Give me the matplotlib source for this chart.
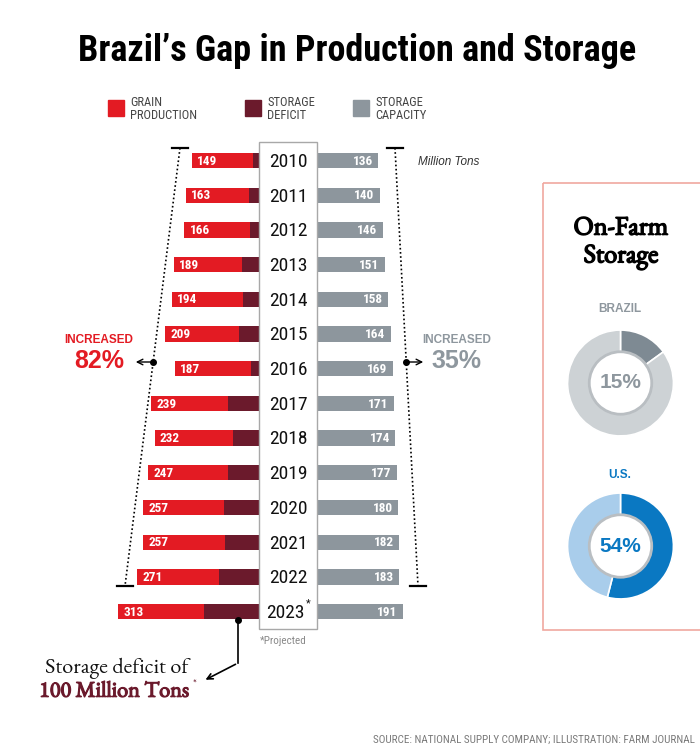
import matplotlib
matplotlib.use("Agg")
import matplotlib.pyplot as plt
import matplotlib.patheffects as pe
from matplotlib.patches import Rectangle, Circle

years = ["2010", "2011", "2012", "2013", "2014", "2015", "2016",
         "2017", "2018", "2019", "2020", "2021", "2022", "2023"]
production = [149, 163, 166, 189, 194, 209, 187, 239, 232, 247, 257, 257, 271, 313]
capacity = [136, 140, 146, 151, 158, 164, 169, 171, 174, 177, 180, 182, 183, 191]
deficit = [p - c for p, c in zip(production, capacity)]

brazil_share = [15, 85]
us_share = [54, 46]

RED = "#E31B23"
DARK = "#6B1A2C"
GRAY = "#8D969D"
GRAY_TXT = "#8E979E"
BLUE = "#0A78C2"
LIGHT_BLUE = "#A9CDEB"
NARROW = ["Roboto Condensed", "Liberation Sans", "DejaVu Sans"]
SANS = ["Liberation Sans", "DejaVu Sans"]
SERIF = ["EB Garamond", "Liberation Serif", "DejaVu Serif"]

PX = 0.45        # pixels per million tons
CX = 288         # centre of the year column, pixels
GAP = 29 / PX    # half width of the year column in data units
ROW0, ROWH = 160.5, 34.7


def heavy(col, w=0.9):
    # EB Garamond has no bold face here, thicken the outline instead
    return [pe.withStroke(linewidth=w, foreground=col)]


fig = plt.figure(figsize=(7, 7.5), dpi=100)

# bars, in million tons
ax = fig.add_axes([0, 0, 1, 1])
ax.set_xlim(-CX / PX, (700 - CX) / PX)
ax.set_ylim((750 - ROW0) / ROWH, -ROW0 / ROWH)
ax.axis("off")

rows = list(range(len(years)))
h = 0.44
left_start = [-GAP - p for p in production]
ax.barh(rows, capacity, left=left_start, height=h, color=RED)
ax.barh(rows, deficit, left=[-GAP - d for d in deficit], height=h, color=DARK)
ax.barh(rows, capacity, left=GAP, height=h, color=GRAY)

for i in rows:
    ax.text(left_start[i] + 12, i + 0.02, str(production[i]), ha="left", va="center",
            color="white", fontsize=9.5, fontweight="bold", family=NARROW)
    ax.text(GAP + capacity[i] - 12, i + 0.02, str(capacity[i]), ha="right", va="center",
            color="white", fontsize=9.5, fontweight="bold", family=NARROW)
    if years[i] == "2023":
        ax.text(-5, i + 0.04, years[i], ha="center", va="center",
                fontsize=14, family=NARROW, color="#111111")
        ax.text(44, i - 0.25, "*", ha="center", va="center",
                fontsize=8, family=NARROW, color="#111111")
    else:
        ax.text(0, i + 0.04, years[i], ha="center", va="center",
                fontsize=14, family=NARROW, color="#111111")

# overlay in pixels for the furniture
ov = fig.add_axes([0, 0, 1, 1])
ov.patch.set_alpha(0)
ov.set_xlim(0, 700)
ov.set_ylim(750, 0)
ov.axis("off")

ov.add_patch(Rectangle((259, 142), 58, 487, fill=False, ec="#A8A8A8", lw=1))

ov.text(357, 51, "Brazil\u2019s Gap in Production and Storage", ha="center",
        va="center", fontsize=26, fontweight="bold", family=NARROW)

# legend
legend = [("GRAIN\nPRODUCTION", RED, 108), ("STORAGE\nDEFICIT", DARK, 245),
          ("STORAGE\nCAPACITY", GRAY, 353)]
for label, col, x in legend:
    ov.add_patch(Rectangle((x, 100), 16, 16, color=col))
    ov.text(x + 22, 109, label, ha="left", va="center", fontsize=9,
            family=NARROW, color="#444444", linespacing=1.05)

ov.text(418, 162, "Million Tons", ha="left", va="center", fontsize=8.5,
        style="italic", family=SANS, color="#333333")

# brackets
for (x0, y0), (x1, y1) in [((180, 148), (125, 586)), ((395, 148), (418, 586))]:
    ov.plot([x0, x1], [y0, y1], color="black", ls=(0, (1, 1.5)), lw=1.2)
    ov.plot([x0 - 8, x0 + 8], [y0, y0], color="black", lw=1.6)
    ov.plot([x1 - 8, x1 + 8], [y1, y1], color="black", lw=1.6)

ov.plot([153], [362], "o", color="black", ms=4)
ov.annotate("", xy=(133, 362), xytext=(153, 362),
            arrowprops=dict(arrowstyle="->", color="black", lw=1))
ov.plot([406], [362], "o", color="black", ms=4)
ov.annotate("", xy=(426, 362), xytext=(406, 362),
            arrowprops=dict(arrowstyle="->", color="black", lw=1))

ov.text(99, 340, "INCREASED", ha="center", va="center", fontsize=8.5,
        fontweight="bold", family=SANS, color=RED)
ov.text(99, 361, "82%", ha="center", va="center", fontsize=18,
        fontweight="bold", family=SANS, color=RED)
ov.text(457, 340, "INCREASED", ha="center", va="center", fontsize=8.5,
        fontweight="bold", family=SANS, color=GRAY_TXT)
ov.text(456, 361, "35%", ha="center", va="center", fontsize=18,
        fontweight="bold", family=SANS, color=GRAY_TXT)

ov.text(283, 641, "*Projected", ha="center", va="center", fontsize=8,
        family=NARROW, color="#8a8a8a")

# deficit callout
ov.plot([238], [620], "o", color="black", ms=4)
ov.plot([238, 238], [620, 663], color="black", lw=1.2)
ov.annotate("", xy=(203, 681), xytext=(238, 663),
            arrowprops=dict(arrowstyle="->", color="black", lw=1.2))
ov.text(117, 668, "Storage deficit of", ha="center", va="center",
        fontsize=16, family=SERIF, color="#111111")
ov.text(114, 692, "100 Million Tons", ha="center", va="center",
        fontsize=16, family=SERIF, color=DARK, path_effects=heavy(DARK))
ov.text(195, 684, "*", ha="center", va="center", fontsize=8,
        family=SERIF, color=DARK)

ov.text(695, 740, "SOURCE: NATIONAL SUPPLY COMPANY; ILLUSTRATION: FARM JOURNAL",
        ha="right", va="center", fontsize=8, family=NARROW, color="#7a7a7a")

# on-farm storage panel
ov.add_patch(Rectangle((543, 183), 170, 447, fill=False, ec="#F0A8A0", lw=1.2,
                       clip_on=False))
ov.text(621, 243, "On-Farm\nStorage", ha="center", va="center", fontsize=19,
        family=SERIF, linespacing=1.05, path_effects=heavy("black", 1.1))
ov.text(620, 309, "BRAZIL", ha="center", va="center", fontsize=8.5,
        fontweight="bold", family=SANS, color=GRAY_TXT)
ov.text(620, 475, "U.S.", ha="center", va="center", fontsize=8.5,
        fontweight="bold", family=SANS, color=BLUE)


def donut(cx, cy, r, values, colors, label, txtcol):
    dax = fig.add_axes([(cx - r) / 700, 1 - (cy + r) / 750, 2 * r / 700, 2 * r / 750])
    dax.pie(values, colors=colors, startangle=90, counterclock=False,
            wedgeprops=dict(width=0.42, edgecolor="white", linewidth=1.2))
    dax.add_patch(Circle((0, 0), 0.59, fill=False, ec="#B9BEC2", lw=2))
    dax.set_xlim(-1.02, 1.02)
    dax.set_ylim(-1.02, 1.02)
    dax.set_aspect("equal")
    dax.axis("off")
    dax.text(0, 0, label, ha="center", va="center", fontsize=15,
             fontweight="bold", family=SANS, color=txtcol)


donut(620.5, 383, 54, brazil_share, ["#7E8A93", "#CDD2D5"], "15%", GRAY_TXT)
donut(620.5, 546, 54, us_share, [BLUE, LIGHT_BLUE], "54%", BLUE)

fig.savefig("out.png", dpi=100)
